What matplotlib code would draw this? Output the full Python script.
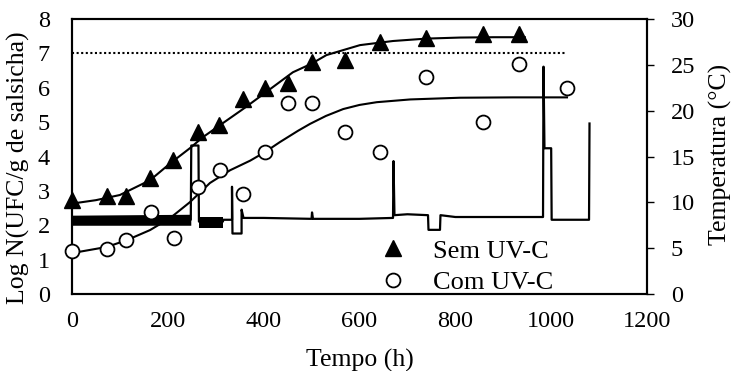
import matplotlib
matplotlib.use("Agg")
import matplotlib.pyplot as plt

plt.rcParams['font.family'] = ['Liberation Serif', 'DejaVu Serif']

# Observed counts (log CFU/g)
sem_t = [0, 73, 113, 163, 211, 263, 307, 357, 403, 451, 500, 570, 643, 739, 858, 933]
sem_y = [2.73, 2.85, 2.85, 3.37, 3.9, 4.71, 4.91, 5.67, 5.99, 6.13, 6.74, 6.8, 7.33, 7.45, 7.55, 7.55]
com_t = [0, 73, 113, 164, 213, 263, 309, 357, 403, 451, 500, 570, 643, 739, 858, 933, 1033]
com_y = [1.25, 1.31, 1.57, 2.38, 1.63, 3.11, 3.6, 2.9, 4.13, 5.55, 5.55, 4.71, 4.13, 6.3, 5.0, 6.69, 6.0]

# Fitted curves
sem_fit_t = [0, 50, 100, 163, 205, 246, 273, 320, 360, 398, 461, 500, 531, 601, 670, 740, 810, 880, 945]
sem_fit_y = [2.63, 2.73, 2.88, 3.31, 3.8, 4.24, 4.56, 5.02, 5.41, 5.8, 6.45, 6.7, 6.95, 7.24, 7.36, 7.43, 7.46, 7.47, 7.47]
com_fit_t = [0, 73, 115, 163, 205, 246, 288, 330, 372, 403, 434, 472, 497, 530, 566, 600, 636, 706, 810, 920, 1033]
com_fit_y = [1.19, 1.37, 1.57, 1.86, 2.21, 2.67, 3.23, 3.6, 3.88, 4.13, 4.42, 4.75, 4.95, 5.18, 5.38, 5.5, 5.58, 5.66, 5.71, 5.72, 5.72]

# Reference level
ref_t = [0, 1029]
ref_y = [7.0, 7.0]

# Temperature record (°C)
temp_t = [0, 248, 249, 264, 265, 315, 316, 334, 334, 335, 354, 354, 358, 400, 500, 501, 503, 600, 670, 671, 673, 700, 743, 744, 768, 769, 800, 900, 983, 984, 986, 1000, 1001, 1079, 1080]
temp_v = [8.05, 8.1, 16.2, 16.2, 7.9, 7.9, 8.1, 8.1, 11.7, 6.6, 6.6, 9.2, 8.3, 8.3, 8.2, 8.9, 8.2, 8.2, 8.3, 14.5, 8.6, 8.7, 8.6, 7.0, 7.0, 8.6, 8.4, 8.4, 8.4, 24.8, 15.9, 15.9, 8.1, 8.1, 18.6]
# Noisy bands of the temperature record
band1_t = [0, 248]
band1_lo = [7.5, 7.5]
band1_hi = [8.6, 8.7]
band2_t = [265, 315]
band2_lo = [7.2, 7.2]
band2_hi = [8.4, 8.4]

W, H = 734, 371
fig = plt.figure(figsize=(W / 100, H / 100), dpi=100)
ax = fig.add_axes([0.098, 0.2075, 0.7835, 0.7413])
ax2 = ax.twinx()
ax.set_zorder(ax2.get_zorder() + 1)
ax.patch.set_visible(False)

fs_tick = 17.5
fs_lab = 18.5
fs_leg = 19
# temperature
ax2.plot(temp_t, temp_v, color='black', lw=1.6)
ax2.fill_between(band1_t, band1_lo, band1_hi, color='black', lw=0)
ax2.fill_between(band2_t, band2_lo, band2_hi, color='black', lw=0)
ax2.set_ylim(0, 30)
ax2.set_yticks(range(0, 31, 5))
ax2.tick_params(axis='y', direction='out', length=5, width=1, pad=12, labelsize=fs_tick)

ax.plot(sem_fit_t, sem_fit_y, color='black', lw=1.5)
ax.plot(com_fit_t, com_fit_y, color='black', lw=1.5)
ax.plot(ref_t, ref_y, color='black', lw=1.5, ls=(0, (1, 1.2)))
ax.plot(sem_t, sem_y, ls='none', marker='^', ms=11, color='black', label='Sem UV-C', clip_on=False, zorder=5)
ax.plot(com_t, com_y, ls='none', marker='o', ms=10, mfc='white', mec='black', mew=1.3, label='Com UV-C', clip_on=False, zorder=5)

ax.set_xlim(0, 1200)
ax.set_ylim(0, 8)
ax.set_xticks(range(0, 1201, 200))
ax.set_yticks(range(0, 9))
ax.tick_params(axis='both', length=0, labelsize=fs_tick)
ax.tick_params(axis='y', pad=16)
ax.tick_params(axis='x', pad=12)
for a in (ax, ax2):
    for s in a.spines.values():
        s.set_linewidth(1.5)

# axis titles
fig.text(360 / W, 1 - 360 / H, 'Tempo (h)', fontsize=fs_lab, ha='center', va='center')
fig.text(18 / W, 1 - 168 / H, 'Log N(UFC/g de salsicha)', fontsize=fs_lab, ha='center', va='center', rotation=90)
fig.text(720 / W, 1 - 154 / H, 'Temperatura (°C)', fontsize=fs_lab, ha='center', va='center', rotation=90)

ax.legend(loc='lower left', bbox_to_anchor=(0.504, -0.04), frameon=False, fontsize=fs_leg,
          handletextpad=0.7, labelspacing=0.32, borderaxespad=0, handlelength=1.6)

fig.savefig('out.png', dpi=100)
